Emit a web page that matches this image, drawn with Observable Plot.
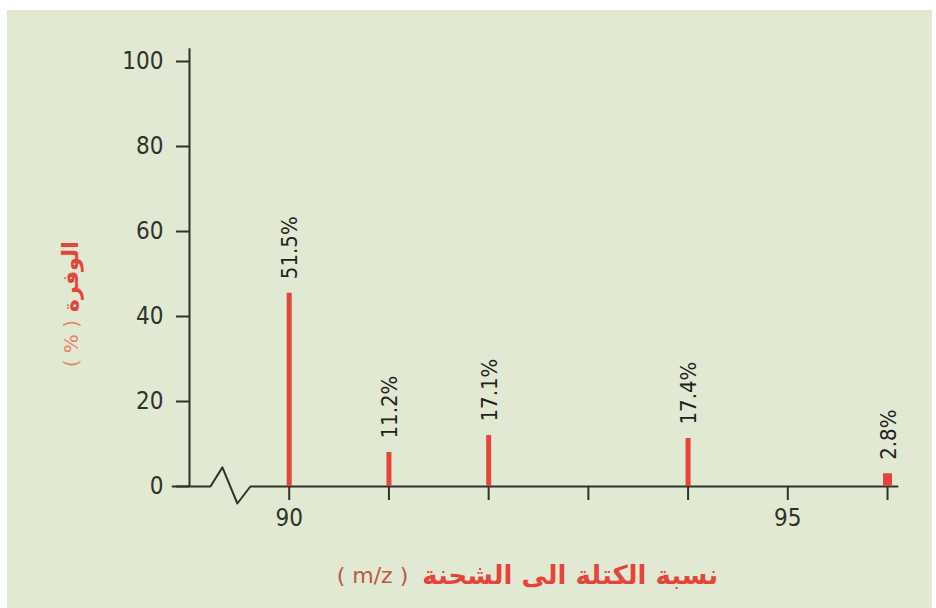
<!DOCTYPE html>
<html>
<head>
<meta charset="utf-8">
<script src="https://cdn.jsdelivr.net/npm/d3@7"></script>
<script src="https://cdn.jsdelivr.net/npm/@observablehq/plot@0.6"></script>
<style>
  html, body { margin: 0; padding: 0; background: #ffffff; }
  #wrap { position: relative; width: 936px; height: 608px; overflow: hidden; }
  #panel { position: absolute; left: 7px; top: 10px; width: 925px; height: 598px; background: #e1e9d3; }
  #chart { position: absolute; left: 0; top: 0; }
</style>
</head>
<body>
<div id="wrap"><div id="panel"></div><div id="chart"></div></div>
<script>
// Data
const masses = [90, 91, 92, 94, 96];
const barHeights = [45.5, 8.0, 12.0, 11.3, 3.0];
const abundanceLabels = ["51.5%", "11.2%", "17.1%", "17.4%", "2.8%"];
const xTicks = [90, 91, 92, 93, 94, 95, 96];
const labeledXTicks = [90, 95];
const yTicks = [0, 20, 40, 60, 80, 100];
const xDomain = [89, 96.1];
const yDomain = [0, 100];
const yAxisTop = 103;
// axis line with a break (zigzag) near the origin
const axisBreakX = [88.83, 89.21, 89.33, 89.48, 89.61, 96.1];
const axisBreakY = [0, 0, 4.5, -4, 0, 0];
const xTitleArabic = "نسبة الكتلة الى الشحنة";
const xTitleUnit = "( m/z )";
const yTitleArabic = "الوفرة";
const yTitleUnit = "( % )";

const bars = masses.map((m, i) => ({mass: m, value: barHeights[i], label: abundanceLabels[i]}));
const axisLine = axisBreakX.map((x, i) => ({x, y: axisBreakY[i]}));

const red = "#e5443a";
const ink = "#2f332b";

const plot = Plot.plot({
  width: 936,
  height: 608,
  marginLeft: 189,
  marginRight: 39,
  marginTop: 61,
  marginBottom: 122,
  style: {background: "transparent", fontFamily: "'DejaVu Sans Condensed', 'DejaVu Sans', sans-serif", fontSize: "24px", color: ink},
  x: {domain: xDomain},
  y: {domain: yDomain},
  marks: [
    Plot.axisY({ticks: yTicks, tickSize: 13, tickPadding: 13, strokeWidth: 2, label: null, fill: ink}),
    Plot.axisX({ticks: xTicks, tickSize: 14, tickPadding: 8, strokeWidth: 2, label: null, fill: ink,
      tickFormat: d => labeledXTicks.includes(d) ? String(d) : ""}),
    Plot.ruleX([xDomain[0]], {y1: 0, y2: yAxisTop, stroke: ink, strokeWidth: 2}),
    Plot.line(axisLine, {x: "x", y: "y", stroke: ink, strokeWidth: 2, curve: "linear"}),
    Plot.ruleX(bars, {x: "mass", y1: 0, y2: "value", stroke: red, strokeWidth: d => d.mass === 96 ? 9 : 5}),
    Plot.text(bars, {x: "mass", y: "value", text: "label", rotate: -90, textAnchor: "start", dy: -14, dx: 1,
      fontSize: 22, fill: "#222", fontFamily: "'DejaVu Sans Condensed', sans-serif"})
  ]
});
document.getElementById("chart").appendChild(plot);

const svg = d3.select(plot);
// x title
const xt = svg.append("text")
  .attr("x", 718).attr("y", 584)
  .attr("text-anchor", "end")
  .attr("font-family", "'DejaVu Sans', sans-serif")
  .attr("font-weight", "bold")
  .attr("font-size", 26)
  .attr("fill", red)
  .text(xTitleArabic);
const xb = xt.node().getBBox();
svg.append("text")
  .attr("x", xb.x - 14).attr("y", 583)
  .attr("text-anchor", "end")
  .attr("font-family", "'DejaVu Sans', sans-serif")
  .attr("font-size", 22)
  .attr("fill", "#bf5646")
  .text(xTitleUnit);

// y title (rotated)
svg.append("text")
  .attr("transform", "translate(78,312) rotate(-90)")
  .attr("text-anchor", "start")
  .attr("font-family", "'DejaVu Sans', sans-serif")
  .attr("font-weight", "bold")
  .attr("font-size", 22)
  .attr("fill", red)
  .text(yTitleArabic);
svg.append("text")
  .attr("transform", "translate(78,320) rotate(-90)")
  .attr("text-anchor", "end")
  .attr("font-family", "'DejaVu Sans', sans-serif")
  .attr("font-size", 20)
  .attr("fill", "#e8806c")
  .text(yTitleUnit);
</script>
</body>
</html>
